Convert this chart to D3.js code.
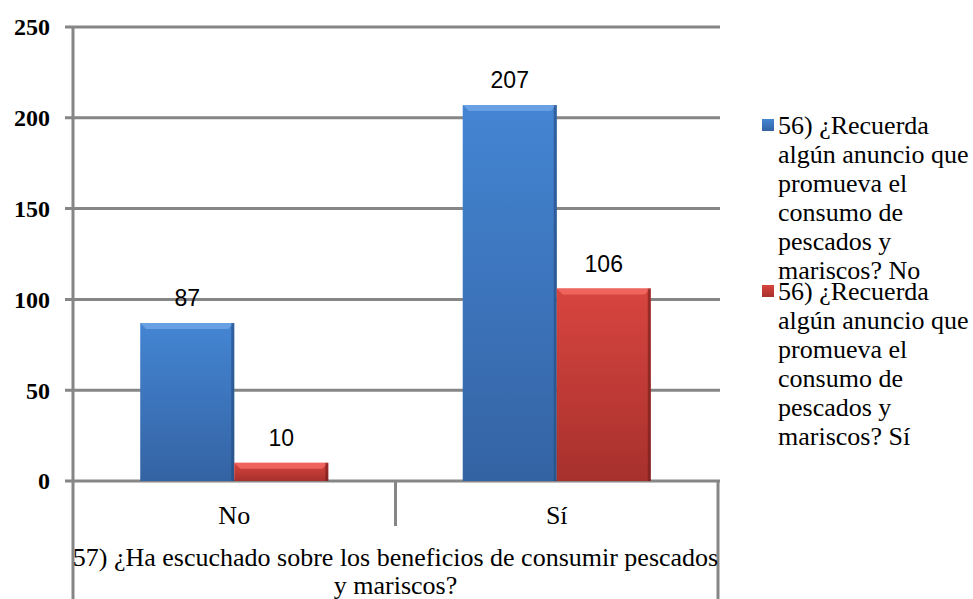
<!DOCTYPE html>
<html lang="es">
<head>
<meta charset="UTF-8">
<title>Beneficios de consumir pescados y mariscos</title>
<script src="https://d3js.org/d3.v7.min.js"></script>
<style>
  body { margin: 0; background: #fff; }
  svg { display: block; }
  .serif { font-family: "Liberation Serif", "Times New Roman", serif; fill: #000; }
  .lbl { font-family: "Liberation Sans", Arial, sans-serif; fill: #000; }
</style>
</head>
<body>
<svg width="973" height="599"></svg>
<script>
// categorías del eje X (pregunta 57)
var categories = ["No", "Sí"];
// series (pregunta 56)
var seriesNames = [
  "56) ¿Recuerda algún anuncio que promueva el consumo de pescados y mariscos? No",
  "56) ¿Recuerda algún anuncio que promueva el consumo de pescados y mariscos? Sí"
];
var valuesNo = [87, 207];  // serie azul (56: No) para cada categoría
var valuesSi = [10, 106];  // serie roja (56: Sí) para cada categoría
var yTicks = [0, 50, 100, 150, 200, 250];
var axisTitle = ["57) ¿Ha escuchado sobre los beneficios de consumir pescados", "y mariscos?"];
var legendLines = [
  ["56) ¿Recuerda", "algún anuncio que", "promueva el", "consumo de", "pescados y", "mariscos? No"],
  ["56) ¿Recuerda", "algún anuncio que", "promueva el", "consumo de", "pescados y", "mariscos? Sí"]
];

var svg = d3.select("svg");
var plotLeft = 73, plotRight = 718, plotTop = 27, plotBottom = 481;
var gridColor = "#868686";

var data = categories.map(function(c, i) {
  return { cat: c, vals: [valuesNo[i], valuesSi[i]] };
});

var x0 = d3.scaleBand().domain(categories).range([plotLeft, plotRight]).padding(0);
var x1 = d3.scaleBand().domain([0, 1]).range([0, x0.bandwidth()]).paddingInner(0).paddingOuter(0.715);
var y = d3.scaleLinear().domain([0, 250]).range([plotBottom, plotTop]);

// gradientes para las barras
var defs = svg.append("defs");
var colors = [
  { id: "g0", top: "#4485d3", bot: "#3463a3", bevel: "#6ea4e6", edge: "#234a7c" },
  { id: "g1", top: "#d8453f", bot: "#a7302d", bevel: "#f46a64", edge: "#6e1d1b" }
];
colors.forEach(function(c) {
  var g = defs.append("linearGradient").attr("id", c.id).attr("x1", 0).attr("y1", 0).attr("x2", 0).attr("y2", 1);
  g.append("stop").attr("offset", "0%").attr("stop-color", c.top);
  g.append("stop").attr("offset", "100%").attr("stop-color", c.bot);
});

// líneas de cuadrícula
svg.append("g").selectAll("line").data(yTicks).enter().append("line")
  .attr("x1", plotLeft - 8).attr("x2", plotRight + 2)
  .attr("y1", function(d) { return y(d); }).attr("y2", function(d) { return y(d); })
  .attr("stroke", gridColor).attr("stroke-width", 3);

// eje Y
svg.append("line").attr("x1", plotLeft).attr("x2", plotLeft).attr("y1", plotTop).attr("y2", 599)
  .attr("stroke", gridColor).attr("stroke-width", 3);
svg.append("g").selectAll("text").data(yTicks).enter().append("text")
  .attr("class", "serif")
  .attr("x", 50).attr("y", function(d) { return y(d); })
  .attr("dy", "0.35em").attr("text-anchor", "end")
  .style("font-size", "24px").style("font-weight", "bold")
  .text(function(d) { return d; });

// separadores de categorías
svg.append("line").attr("x1", x0("Sí")).attr("x2", x0("Sí")).attr("y1", plotBottom).attr("y2", 526)
  .attr("stroke", gridColor).attr("stroke-width", 3);
svg.append("line").attr("x1", plotRight).attr("x2", plotRight).attr("y1", plotBottom).attr("y2", 599)
  .attr("stroke", gridColor).attr("stroke-width", 3);

// barras
var groups = svg.append("g").selectAll("g").data(data).enter().append("g")
  .attr("transform", function(d) { return "translate(" + x0(d.cat) + ",0)"; });

groups.each(function(d) {
  var g = d3.select(this);
  d.vals.forEach(function(v, i) {
    var c = colors[i];
    var bx = x1(i), bw = x1.bandwidth(), by = y(v), bh = plotBottom - y(v);
    var bev = Math.min(6, bh / 2);
    g.append("rect").attr("x", bx).attr("y", by).attr("width", bw).attr("height", bh)
      .attr("fill", "url(#" + c.id + ")");
    g.append("path")
      .attr("d", "M" + bx + "," + by + "L" + (bx + bw) + "," + by + "L" + (bx + bw - bev) + "," + (by + bev) + "L" + (bx + bev) + "," + (by + bev) + "Z")
      .attr("fill", c.bevel).attr("opacity", 0.85);
    g.append("rect").attr("x", bx + bw - 3).attr("y", by).attr("width", 3).attr("height", bh)
      .attr("fill", c.edge).attr("opacity", 0.6);
    g.append("text").attr("class", "lbl")
      .attr("x", bx + bw / 2).attr("y", by - 25).attr("dy", "0.35em")
      .attr("text-anchor", "middle").style("font-size", "23px")
      .text(v);
  });
});

// etiquetas de categorías
svg.append("g").selectAll("text").data(categories).enter().append("text")
  .attr("class", "serif")
  .attr("x", function(d) { return x0(d) + x0.bandwidth() / 2; })
  .attr("y", 515).attr("dy", "0.35em").attr("text-anchor", "middle")
  .style("font-size", "26px")
  .text(function(d) { return d; });

// título del eje X
svg.append("g").selectAll("text").data(axisTitle).enter().append("text")
  .attr("class", "serif")
  .attr("x", (plotLeft + plotRight) / 2).attr("y", function(d, i) { return 557 + i * 28; })
  .attr("dy", "0.35em").attr("text-anchor", "middle")
  .style("font-size", "26px")
  .text(function(d) { return d; });

// leyenda
var legendTop = [125, 291];
legendLines.forEach(function(lines, i) {
  svg.append("rect").attr("x", 762).attr("y", legendTop[i] - 6).attr("width", 12).attr("height", 12)
    .attr("fill", "url(#" + colors[i].id + ")");
  svg.append("g").selectAll("text").data(lines).enter().append("text")
    .attr("class", "serif")
    .attr("x", 778).attr("y", function(d, j) { return legendTop[i] + j * 29; })
    .attr("dy", "0.35em").style("font-size", "26px")
    .text(function(d) { return d; });
});
</script>
</body>
</html>
